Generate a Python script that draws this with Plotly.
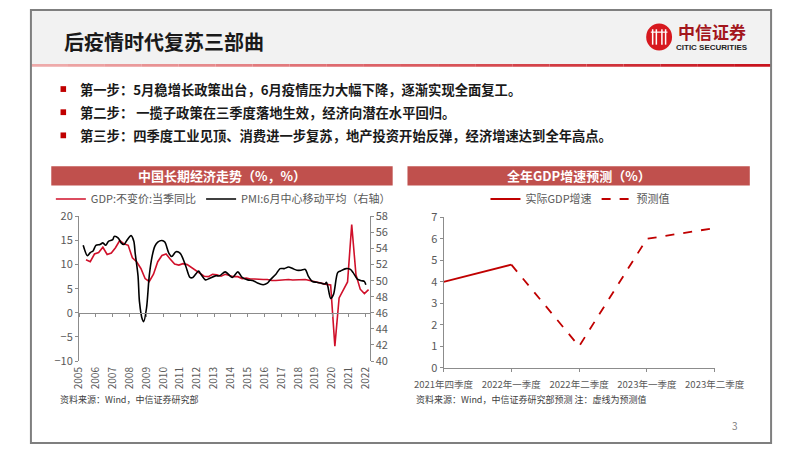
import plotly.graph_objects as go

W, H = 802, 451
FONT = "Noto Sans CJK SC"
GRAY = "#595959"
AX = "#8c8c8c"

# ---------------- data: left chart ----------------
gdp_dates = ["2005-06-01", "2005-09-01", "2005-12-01"] + [
    f"{y}-{m}-01" for y in range(2006, 2022) for m in ("03", "06", "09", "12")
] + ["2022-03-01"]
gdp_values = [
    11.0, 10.6, 12.2,
    12.5, 13.6, 12.1, 12.4,
    13.5, 15.0, 14.3, 14.0,
    11.4, 10.6, 9.2, 7.1,
    6.5, 8.0, 10.6, 11.9,
    12.2, 11.1, 10.1, 9.9,
    10.2, 10.0, 9.4, 8.8,
    8.1, 7.6, 7.5, 8.0,
    7.9, 7.6, 8.0, 7.7,
    7.5, 7.5, 7.1, 7.2,
    7.0, 7.0, 6.9, 6.9,
    6.9, 6.7, 6.7, 6.8,
    6.9, 6.9, 6.8, 6.8,
    6.9, 6.9, 6.7, 6.5,
    6.3, 6.0, 5.9, 5.8,
    -6.9, 3.1, 4.8, 6.4,
    18.3, 7.9, 4.9, 4.0,
    4.8,
]

pmi_dates = [
    "2005-04", "2005-07", "2005-09", "2005-11", "2006-01", "2006-04", "2006-06",
    "2006-08", "2006-10", "2007-01", "2007-02", "2007-05", "2007-07", "2007-09",
    "2007-11", "2008-02", "2008-04", "2008-05", "2008-07", "2008-08", "2008-10",
    "2008-11", "2009-01", "2009-03", "2009-05", "2009-07", "2009-09", "2009-12",
    "2010-02", "2010-05", "2010-07", "2010-10", "2011-01", "2011-05", "2011-08",
    "2011-10", "2012-02", "2012-03", "2012-07", "2012-10", "2013-02", "2013-05",
    "2013-09", "2014-02", "2014-06", "2014-09", "2015-01", "2015-05", "2015-08",
    "2015-12", "2016-03", "2016-05", "2016-09", "2016-12", "2017-03", "2017-06",
    "2017-09", "2017-12", "2018-03", "2018-06", "2018-08", "2018-11", "2019-02",
    "2019-05", "2019-08", "2019-09", "2019-10", "2019-12", "2020-02", "2020-05",
    "2020-07", "2020-11", "2021-02", "2021-04", "2021-07", "2021-10", "2021-12",
    "2022-01",
]
pmi_values = [
    54.4, 53.1, 53.5, 53.7, 54.4, 54.5, 54.7,
    54.4, 54.9, 55.1, 55.5, 55.3, 54.7, 54.5,
    55.0, 55.6, 54.9, 53.4, 50.6, 47.4, 45.2,
    44.9, 46.6, 50.6, 53.0, 54.3, 54.8, 55.0,
    54.8, 53.4, 53.0, 53.6, 53.4, 51.8, 50.4,
    50.4, 51.2, 51.0, 50.1, 50.3, 50.6, 50.6,
    51.1, 50.4, 51.1, 50.4, 50.1, 50.0, 49.7,
    49.5, 49.7, 50.1, 50.8, 51.5, 51.5, 51.7,
    51.5, 51.3, 51.3, 51.4, 50.6, 49.9, 49.8,
    49.7, 49.6, 49.8, 49.3, 47.8, 48.3, 51.0,
    51.2, 51.5, 51.4, 51.0, 50.2, 50.0, 49.9,
    49.5,
]
year_labels = [str(y) for y in range(2005, 2023)]
year_ticks = [f"{y}-01-01" for y in range(2005, 2023)]

# ---------------- data: right chart ----------------
quarters = ["2021年四季度", "2022年一季度", "2022年二季度", "2023年一季度", "2023年二季度"]
actual_gdp = [4.0, 4.8, None, None, None]
forecast_gdp = [None, 4.8, 1.0, 6.0, 6.5]

# ---------------- helpers ----------------
def px(x):
    return x / W

def py(y):
    return 1 - y / H

fig = go.Figure()

xr = ["2005-01-01", "2022-03-22"]

fig.add_trace(go.Scatter(
    x=gdp_dates, y=gdp_values, mode="lines", name="GDP:不变价:当季同比",
    line=dict(color="#D0102A", width=1.6), xaxis="x", yaxis="y", legend="legend",
))
fig.add_trace(go.Scatter(
    x=pmi_dates, y=pmi_values, mode="lines", name="PMI:6月中心移动平均（右轴）",
    line=dict(color="#000000", width=1.6, shape="spline", smoothing=0.8),
    xaxis="x", yaxis="y2", legend="legend",
))
# invisible trace so the zero-line axis renders
fig.add_trace(go.Scatter(
    x=xr, y=[0, 0], mode="lines", line=dict(width=0), showlegend=False,
    hoverinfo="skip", xaxis="x3", yaxis="y",
))

fig.add_trace(go.Scatter(
    x=quarters, y=actual_gdp, mode="lines", name="实际GDP增速",
    line=dict(color="#C00000", width=1.8), xaxis="x2", yaxis="y3", legend="legend2",
))
fig.add_trace(go.Scatter(
    x=quarters, y=forecast_gdp, mode="lines", name="预测值",
    line=dict(color="#C00000", width=1.8, dash="dash"), xaxis="x2", yaxis="y3",
    legend="legend2",
))

tickfont = dict(family=FONT, size=10, color=GRAY)

fig.update_layout(
    width=W, height=H, margin=dict(l=0, r=0, t=0, b=0),
    paper_bgcolor="white", plot_bgcolor="rgba(0,0,0,0)",
    font=dict(family=FONT, color=GRAY),
    xaxis=dict(
        domain=[px(53), px(367)], type="date", range=xr, anchor="y",
        showline=False, showgrid=False, zeroline=False,
        tickvals=year_ticks, ticktext=year_labels, tickangle=-90,
        ticks="", tickfont=tickfont, ticklabelstandoff=3,
    ),
    xaxis3=dict(
        overlaying="x", type="date", range=xr, anchor="free",
        position=py(315), showline=True, linecolor=AX, linewidth=1,
        tickvals=year_ticks, ticks="outside", ticklen=3, tickcolor=AX,
        showticklabels=False, showgrid=False, zeroline=False,
    ),
    yaxis=dict(
        domain=[py(365), py(215)], range=[-10, 20], dtick=5, anchor="x",
        showline=True, linecolor=AX, ticks="outside", ticklen=3, tickcolor=AX,
        showgrid=False, zeroline=False, tickfont=dict(family=FONT, size=11, color=GRAY),
    ),
    yaxis2=dict(
        overlaying="y", side="right", anchor="x", range=[40, 58], dtick=2,
        showline=True, linecolor=AX, ticks="outside", ticklen=3, tickcolor=AX,
        showgrid=False, zeroline=False, tickfont=dict(family=FONT, size=11, color=GRAY),
    ),
    xaxis2=dict(
        domain=[px(447), px(740)], type="category", range=[0, 4], anchor="y3",
        showline=True, linecolor=AX, ticks="outside", ticklen=3, tickcolor=AX,
        tickangle=0, showgrid=False, zeroline=False, ticklabelstandoff=5,
        tickfont=dict(family=FONT, size=9.5, color=GRAY),
    ),
    yaxis3=dict(
        domain=[py(372), py(216)], range=[0, 7], dtick=1, anchor="x2",
        showline=True, linecolor=AX, ticks="outside", ticklen=3, tickcolor=AX,
        showgrid=False, zeroline=False, tickfont=dict(family=FONT, size=11, color=GRAY),
    ),
    legend=dict(
        x=px(209), y=py(197), xanchor="center", yanchor="middle",
        orientation="h", font=dict(family=FONT, size=11, color=GRAY),
        bgcolor="rgba(0,0,0,0)", itemwidth=30, tracegroupgap=0,
    ),
    legend2=dict(
        x=px(595), y=py(197), xanchor="center", yanchor="middle",
        orientation="h", font=dict(family=FONT, size=11, color=GRAY),
        bgcolor="rgba(0,0,0,0)", itemwidth=30,
    ),
    showlegend=True,
)

shapes = []
annotations = []

# header background
shapes.append(dict(type="rect", xref="paper", yref="paper", x0=0, x1=1, y0=py(57), y1=1,
                   fillcolor="#f2f2f2", line=dict(width=0), layer="below"))
# gradient line under header
n = 20
for i in range(n):
    t = i / (n - 1)
    r = int(238 + (200 - 238) * t)
    g = int(170 + (20 - 170) * t)
    b = int(170 + (30 - 170) * t)
    shapes.append(dict(type="rect", xref="paper", yref="paper",
                       x0=px(802 * i / n), x1=px(802 * (i + 1) / n), y0=py(60), y1=py(57),
                       fillcolor=f"rgb({r},{g},{b})", line=dict(width=0)))
# slide border
shapes.append(dict(type="rect", xref="paper", yref="paper", x0=px(1), x1=px(801), y0=py(450), y1=py(1),
                   line=dict(color="#7f7f7f", width=2)))

annotations.append(dict(text="<b>后疫情时代复苏三部曲</b>", x=px(35), y=py(34), xref="paper", yref="paper",
                        xanchor="left", yanchor="middle", showarrow=False,
                        font=dict(family=FONT, size=20, color="#1a1a1a")))

# logo
shapes.append(dict(type="circle", xref="paper", yref="paper", x0=px(666), x1=px(694), y0=py(43), y1=py(15),
                   fillcolor="#D7191F", line=dict(width=0)))
for xx in (673, 677, 683, 687):
    shapes.append(dict(type="line", xref="paper", yref="paper", x0=px(xx), x1=px(xx), y0=py(37), y1=py(21),
                       line=dict(color="white", width=1.5)))
shapes.append(dict(type="line", xref="paper", yref="paper", x0=px(671), x1=px(689), y0=py(24), y1=py(24),
                   line=dict(color="white", width=1.2)))
annotations.append(dict(text="<b>中信证券</b>", x=px(737), y=py(23), xref="paper", yref="paper",
                        xanchor="center", yanchor="middle", showarrow=False,
                        font=dict(family=FONT, size=17, color="#A3161C")))
annotations.append(dict(text="<b>CITIC SECURITIES</b>", x=px(737), y=py(40), xref="paper", yref="paper",
                        xanchor="center", yanchor="middle", showarrow=False,
                        font=dict(family="Liberation Sans", size=8, color="#222222")))

# bullets
bullets = [
    "第一步：5月稳增长政策出台，6月疫情压力大幅下降，逐渐实现全面复工。",
    "第二步： 一揽子政策在三季度落地生效，经济向潜在水平回归。",
    "第三步：四季度工业见顶、消费进一步复苏，地产投资开始反弹，经济增速达到全年高点。",
]
for i, txt in enumerate(bullets):
    yc = 83 + 24 * i
    shapes.append(dict(type="rect", xref="paper", yref="paper", x0=px(33), x1=px(39), y0=py(yc + 3), y1=py(yc - 3),
                       fillcolor="#C00000", line=dict(width=0)))
    annotations.append(dict(text=f"<b>{txt}</b>", x=px(52), y=py(yc), xref="paper", yref="paper",
                            xanchor="left", yanchor="middle", showarrow=False,
                            font=dict(family=FONT, size=13.3, color="#1a1a1a")))

# chart title bars
for (x0, x1, title) in ((23, 392, "中国长期经济走势（%，%）"), (408, 778, "全年GDP增速预测（%）")):
    shapes.append(dict(type="rect", xref="paper", yref="paper", x0=px(x0), x1=px(x1), y0=py(183), y1=py(163),
                       fillcolor="#C0504D", line=dict(width=0)))
    annotations.append(dict(text=f"<b>{title}</b>", x=px((x0 + x1) / 2), y=py(173), xref="paper", yref="paper",
                            xanchor="center", yanchor="middle", showarrow=False,
                            font=dict(family=FONT, size=13, color="white")))

# sources
annotations.append(dict(text="资料来源：Wind，中信证券研究部", x=px(30), y=py(405), xref="paper", yref="paper",
                        xanchor="left", yanchor="middle", showarrow=False,
                        font=dict(family=FONT, size=9, color="#404040")))
annotations.append(dict(text="资料来源：Wind，中信证券研究部预测 注：虚线为预测值", x=px(415), y=py(405),
                        xref="paper", yref="paper", xanchor="left", yanchor="middle", showarrow=False,
                        font=dict(family=FONT, size=9, color="#404040")))
annotations.append(dict(text="3", x=px(762), y=py(432), xref="paper", yref="paper",
                        xanchor="center", yanchor="middle", showarrow=False,
                        font=dict(family=FONT, size=10, color="#7f7f7f")))

fig.update_layout(shapes=shapes, annotations=annotations)
fig.write_html(
    "out.html",
    post_script=(
        "document.documentElement.style.margin='0';"
        "document.documentElement.style.overflow='hidden';"
        "document.body.style.margin='0';"
        "document.body.style.padding='0';"
        "document.body.style.overflow='hidden';"
    ),
)
